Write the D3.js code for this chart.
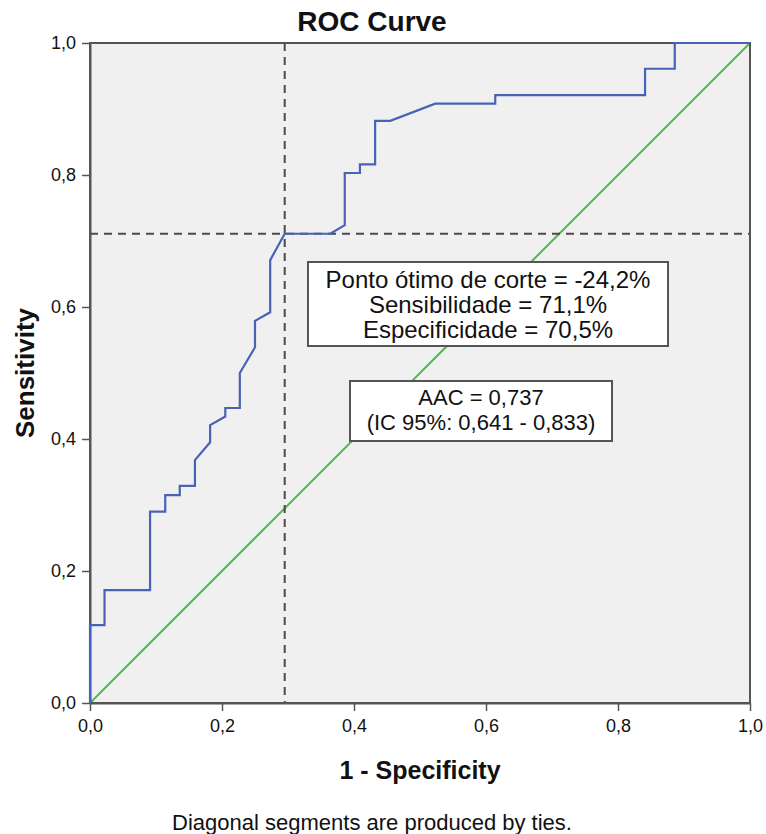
<!DOCTYPE html>
<html>
<head>
<meta charset="utf-8">
<script src="https://cdn.jsdelivr.net/npm/d3@7"></script>
<style>
  body { margin: 0; background: #fff; }
  text { font-family: "Liberation Sans", Arial, sans-serif; fill: #111; }
</style>
</head>
<body>
<div id="chart"></div>
<script>
// ROC curve points (1 - specificity, sensitivity)
var fpr = [0, 0, 0.022, 0.022, 0.091, 0.091, 0.114, 0.114, 0.136, 0.136, 0.159, 0.159, 0.182, 0.182,
           0.205, 0.205, 0.227, 0.227, 0.250, 0.250, 0.273, 0.273, 0.295, 0.364, 0.386, 0.386,
           0.409, 0.409, 0.432, 0.432, 0.455, 0.523, 0.614, 0.614, 0.841, 0.841, 0.886, 0.886, 1.0]
var tpr = [0, 0.118, 0.118, 0.171, 0.171, 0.290, 0.290, 0.315, 0.315, 0.329, 0.329, 0.368, 0.395, 0.421,
           0.434, 0.447, 0.447, 0.500, 0.539, 0.579, 0.592, 0.671, 0.711, 0.711, 0.724, 0.803,
           0.803, 0.816, 0.816, 0.882, 0.882, 0.908, 0.908, 0.921, 0.921, 0.961, 0.961, 1.0, 1.0]
var refLine = [0, 1]
var cutX = 0.295   // 1 - specificity at the optimal cut
var cutY = 0.711   // sensitivity at the optimal cut
var ticks = [0, 0.2, 0.4, 0.6, 0.8, 1.0]
var cutText = ["Ponto ótimo de corte = -24,2%", "Sensibilidade = 71,1%", "Especificidade = 70,5%"]
var aucText = ["AAC = 0,737", "(IC 95%: 0,641 - 0,833)"]

const W = 766, H = 834
const MARGIN = { LEFT: 90, RIGHT: 16, TOP: 43, BOTTOM: 131 }
const width = W - MARGIN.LEFT - MARGIN.RIGHT
const height = H - MARGIN.TOP - MARGIN.BOTTOM

const svg = d3.select("#chart").append("svg")
    .attr("width", W)
    .attr("height", H)

const g = svg.append("g")
    .attr("transform", "translate(" + MARGIN.LEFT + "," + MARGIN.TOP + ")")

var x = d3.scaleLinear().domain([0, 1]).range([0, width])
var y = d3.scaleLinear().domain([0, 1]).range([height, 0])
var fmt = d => d3.format(".1f")(d).replace(".", ",")

g.append("rect")
    .attr("width", width).attr("height", height)
    .attr("fill", "#f0f0f0")

// reference diagonal
g.append("line")
    .attr("x1", x(refLine[0])).attr("y1", y(refLine[0]))
    .attr("x2", x(refLine[1])).attr("y2", y(refLine[1]))
    .attr("stroke", "#4dbb4d").attr("stroke-width", 2)

// cut-off guides
g.append("line")
    .attr("x1", x(cutX)).attr("x2", x(cutX))
    .attr("y1", y(1)).attr("y2", y(0))
    .attr("stroke", "#4a4a4a").attr("stroke-width", 2)
    .attr("stroke-dasharray", "8,6")
g.append("line")
    .attr("x1", x(0)).attr("x2", x(1))
    .attr("y1", y(cutY)).attr("y2", y(cutY))
    .attr("stroke", "#4a4a4a").attr("stroke-width", 2)
    .attr("stroke-dasharray", "8,6")

// frame
g.append("rect")
    .attr("width", width).attr("height", height)
    .attr("fill", "none").attr("stroke", "#555").attr("stroke-width", 2)

var xAxis = g.append("g")
    .attr("transform", "translate(0," + height + ")")
    .call(d3.axisBottom(x).tickValues(ticks).tickFormat(fmt).tickSize(8).tickSizeOuter(0))
var yAxis = g.append("g")
    .call(d3.axisLeft(y).tickValues(ticks).tickFormat(fmt).tickSize(8).tickSizeOuter(0))
;[xAxis, yAxis].forEach(a => {
    a.select(".domain").attr("stroke", "#555").attr("stroke-width", 2)
    a.selectAll(".tick line").attr("stroke", "#555").attr("stroke-width", 1.5)
    a.selectAll(".tick text").style("font-size", "18px").attr("fill", "#222")
})
xAxis.selectAll(".tick text").attr("dy", 0).attr("y", 29)
yAxis.selectAll(".tick text").attr("x", -14)

// ROC curve, drawn over the frame as in the original
var line = d3.line().x(d => x(d[0])).y(d => y(d[1]))
g.append("path")
    .datum(fpr.map((v, i) => [v, tpr[i]]))
    .attr("d", line)
    .attr("fill", "none")
    .attr("stroke", "#4862b6")
    .attr("stroke-width", 2.2)

// annotation boxes
function textBox(lines, cx, top, w, h, lh, first, size) {
    var b = g.append("g")
    b.append("rect")
        .attr("x", cx - w / 2).attr("y", top)
        .attr("width", w).attr("height", h)
        .attr("fill", "#fff").attr("stroke", "#555").attr("stroke-width", 2)
    b.selectAll("text").data(lines).enter().append("text")
        .attr("x", cx)
        .attr("y", (d, i) => top + first + i * lh)
        .attr("text-anchor", "middle")
        .style("font-size", size + "px")
        .text(d => d)
}
textBox(cutText, 398, 219, 360, 84, 25, 26, 24)
textBox(aucText, 391, 338, 262, 60, 25, 24, 22)

// titles
svg.append("text")
    .attr("x", 372).attr("y", 31)
    .attr("text-anchor", "middle")
    .style("font-size", "28px").style("font-weight", "bold")
    .text("ROC Curve")
svg.append("text")
    .attr("x", MARGIN.LEFT + width / 2).attr("y", 779)
    .attr("text-anchor", "middle")
    .style("font-size", "25px").style("font-weight", "bold")
    .text("1 - Specificity")
svg.append("text")
    .attr("transform", "translate(34," + (MARGIN.TOP + height / 2) + ") rotate(-90)")
    .attr("text-anchor", "middle")
    .style("font-size", "26px").style("font-weight", "bold")
    .text("Sensitivity")
svg.append("text")
    .attr("x", 372).attr("y", 830)
    .attr("text-anchor", "middle")
    .style("font-size", "22px")
    .text("Diagonal segments are produced by ties.")
</script>
</body>
</html>
